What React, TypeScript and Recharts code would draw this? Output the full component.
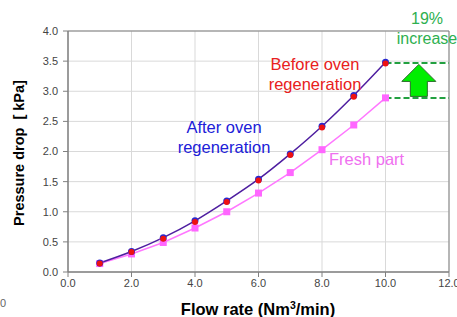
import React from 'react';
import {
  LineChart,
  Line,
  XAxis,
  YAxis,
  CartesianGrid,
  ReferenceLine,
  ReferenceArea,
  ReferenceDot,
} from 'recharts';

const flowRates = [1, 2, 3, 4, 5, 6, 7, 8, 9, 10];
const afterOven = [0.15, 0.34, 0.57, 0.85, 1.18, 1.54, 1.96, 2.42, 2.93, 3.48];
const beforeOven = [0.14, 0.33, 0.55, 0.83, 1.16, 1.52, 1.94, 2.4, 2.91, 3.46];
const freshPart = [0.14, 0.3, 0.49, 0.73, 1.0, 1.31, 1.65, 2.03, 2.44, 2.89];
const xTicks = [0, 2, 4, 6, 8, 10, 12];
const yTicks = [0, 0.5, 1, 1.5, 2, 2.5, 3, 3.5, 4];

const data = flowRates.map((x, i) => ({
  x,
  after: afterOven[i],
  before: beforeOven[i],
  fresh: freshPart[i],
}));

const font = '"Liberation Sans", Arial, sans-serif';

const UpArrow = (props: any) => {
  const { cx, cy } = props;
  const w = 17;
  const sw = 8.5;
  const top = cy - 16;
  const neck = cy + 1;
  const bottom = cy + 16;
  const pts = [
    [cx, top],
    [cx + w, neck],
    [cx + sw, neck],
    [cx + sw, bottom],
    [cx - sw, bottom],
    [cx - sw, neck],
    [cx - w, neck],
  ]
    .map((p) => p.join(','))
    .join(' ');
  return <polygon points={pts} fill="#00ee00" stroke="#2a6a2a" strokeWidth={1} />;
};

const Square = (props: any) => {
  const { cx, cy } = props;
  return <rect x={cx - 3.5} y={cy - 3.5} width={7} height={7} fill="#ff66ff" />;
};

const txt = (s: React.CSSProperties): React.CSSProperties => ({
  position: 'absolute',
  fontFamily: font,
  whiteSpace: 'nowrap',
  lineHeight: '20px',
  ...s,
});

export default function App() {
  return (
    <div style={{ position: 'absolute', left: 0, top: 0, width: 457, height: 317, background: '#fff', overflow: 'hidden' }}>
      <LineChart
        width={457}
        height={317}
        data={data}
        margin={{ top: 31, right: 8, left: 0, bottom: 0 }}
        style={{ fontFamily: font }}
      >
        <CartesianGrid stroke="#d9d9d9" />
        <XAxis
          dataKey="x"
          type="number"
          domain={[0, 12]}
          ticks={xTicks}
          tickFormatter={(v: number) => v.toFixed(1)}
          height={45}
          stroke="#808080"
          tickSize={5}
          tick={{ fill: '#444', fontSize: 11 }}
          interval={0}
        />
        <YAxis
          type="number"
          domain={[0, 4]}
          ticks={yTicks}
          tickFormatter={(v: number) => v.toFixed(1)}
          width={68}
          stroke="#808080"
          tickSize={5}
          tickMargin={5}
          tick={{ fill: '#444', fontSize: 11 }}
          interval={0}
        />
        <ReferenceArea x1={0} x2={12} y1={0} y2={4} fill="none" stroke="#808080" strokeWidth={1} />
        <ReferenceLine
          segment={[{ x: 10, y: 3.47 }, { x: 12, y: 3.47 }]}
          stroke="#22a040"
          strokeWidth={2}
          strokeDasharray="6 3"
        />
        <ReferenceLine
          segment={[{ x: 10, y: 2.89 }, { x: 12, y: 2.89 }]}
          stroke="#22a040"
          strokeWidth={2}
          strokeDasharray="6 3"
        />
        <ReferenceDot x={11.05} y={3.18} r={0} shape={UpArrow} />
        <Line
          dataKey="fresh"
          type="linear"
          stroke="#ff77ff"
          strokeWidth={1.5}
          dot={Square}
          isAnimationActive={false}
        />
        <Line
          dataKey="after"
          type="monotone"
          stroke="#4e1ea0"
          strokeWidth={1.5}
          dot={{ r: 3.5, fill: '#2828d0', stroke: 'none' }}
          isAnimationActive={false}
        />
        <Line
          dataKey="before"
          type="monotone"
          stroke="none"
          dot={{ r: 3, fill: '#ee1111', stroke: 'none' }}
          isAnimationActive={false}
        />
      </LineChart>

      <div
        style={txt({
          left: 19,
          top: 153,
          fontSize: 14.5,
          fontWeight: 'bold',
          color: '#000',
          transform: 'translate(-50%, -50%) rotate(-90deg)',
        })}
      >
        Pressure drop&nbsp; [ kPa]
      </div>
      <div style={txt({ left: 258, top: 309, fontSize: 16.5, fontWeight: 'bold', color: '#000', transform: 'translate(-50%, -50%)' })}>
        Flow rate (Nm<sup style={{ fontSize: 10.5, verticalAlign: 'super', lineHeight: 0 }}>3</sup>/min)
      </div>
      <div style={txt({ left: 315, top: 74, fontSize: 16.5, color: '#e82020', textAlign: 'center', transform: 'translate(-50%, -50%)' })}>
        Before oven
        <br />
        regeneration
      </div>
      <div style={txt({ left: 224, top: 137, fontSize: 16.5, color: '#2020d8', textAlign: 'center', transform: 'translate(-50%, -50%)' })}>
        After oven
        <br />
        regeneration
      </div>
      <div style={txt({ left: 329, top: 149, fontSize: 16.5, color: '#f070f0' })}>Fresh part</div>
      <div style={txt({ left: 427, top: 29, fontSize: 16, color: '#2eb050', textAlign: 'center', transform: 'translate(-50%, -50%)' })}>
        19%
        <br />
        increase
      </div>
      <div style={txt({ left: 0, top: 293, fontSize: 11, color: '#666' })}>0</div>
    </div>
  );
}
